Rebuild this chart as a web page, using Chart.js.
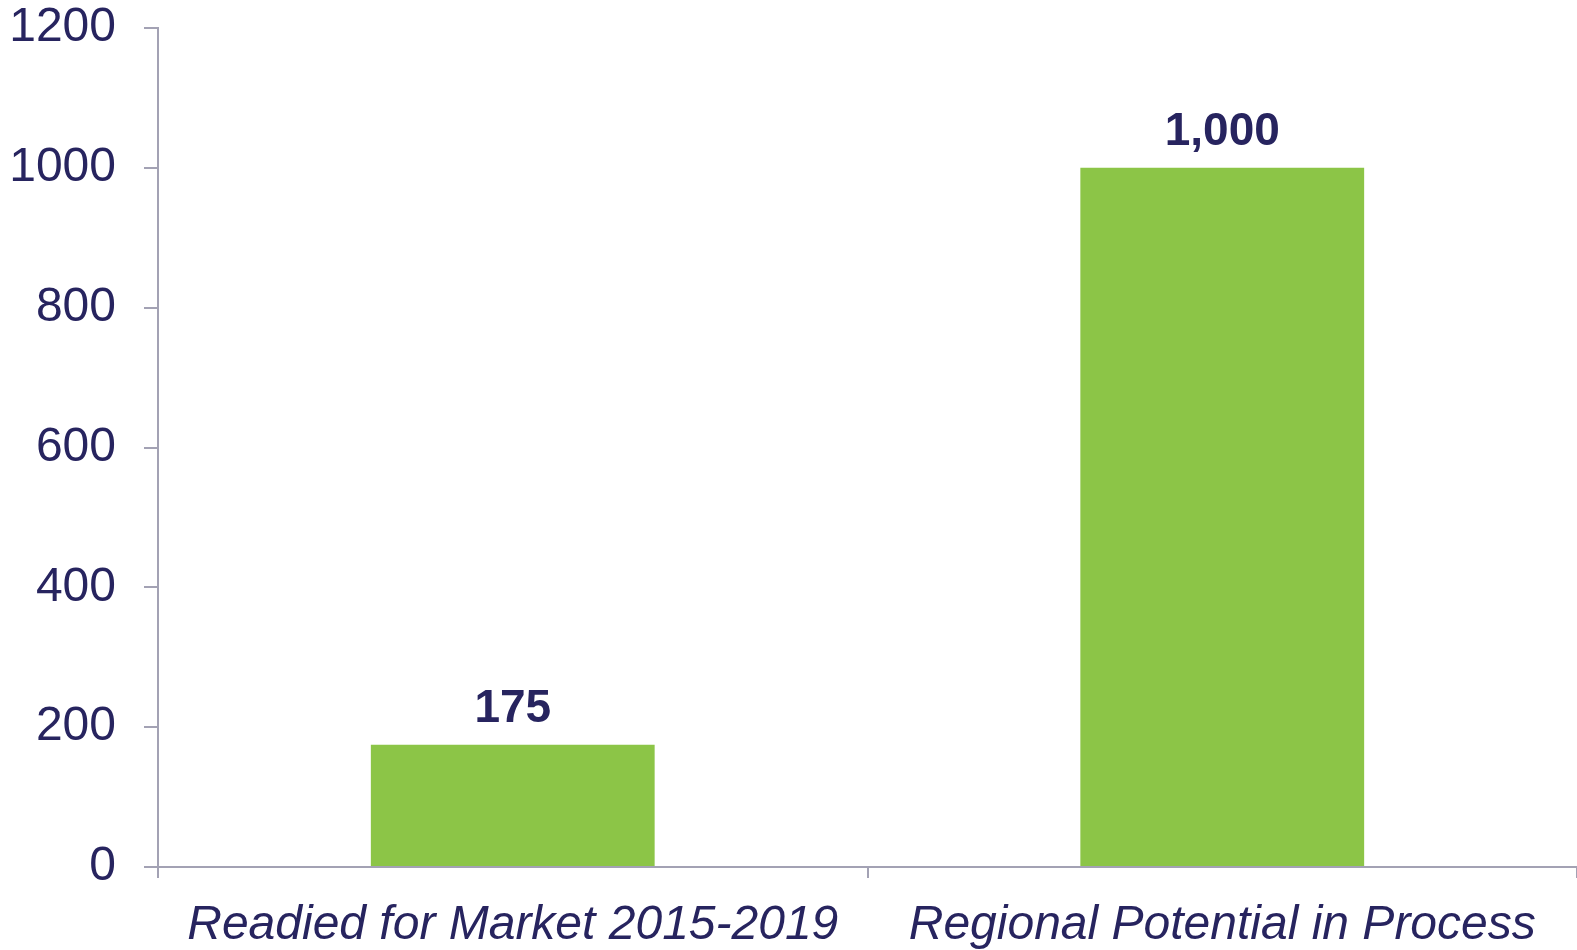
<!DOCTYPE html>
<html>
<head>
<meta charset="utf-8">
<script src="https://cdn.jsdelivr.net/npm/chart.js@4"></script>
<style>
  html, body { margin: 0; padding: 0; background: #fff; }
  #wrap { width: 1577px; height: 950px; position: relative; }
</style>
</head>
<body>
<div id="wrap"><canvas id="chart"></canvas></div>
<script>
// values
const categories = ['Readied for Market 2015-2019', 'Regional Potential in Process'];
const values = [175, 1000];
const valueLabels = ['175', '1,000'];
const yTicks = [0, 200, 400, 600, 800, 1000, 1200];

const navy = '#27245f';
const axisGray = '#a3a2b4';

// draws the bold number above each bar
const barLabels = {
    id: 'barLabels',
    afterDatasetsDraw: function(chart) {
        const ctx = chart.ctx;
        const meta = chart.getDatasetMeta(0);
        ctx.save();
        ctx.fillStyle = navy;
        ctx.font = 'bold 46px "Liberation Sans", Arial, sans-serif';
        ctx.textAlign = 'center';
        ctx.textBaseline = 'alphabetic';
        meta.data.forEach(function(bar, i) {
            ctx.fillText(valueLabels[i], bar.x, bar.y - 23);
        });
        ctx.restore();
    }
};

new Chart(document.getElementById('chart'), {
    type: 'bar',
    data: {
        labels: categories,
        datasets: [{
            data: values,
            backgroundColor: '#8cc547',
            borderWidth: 0,
            barPercentage: 0.4,
            categoryPercentage: 1
        }]
    },
    options: {
        responsive: true,
        maintainAspectRatio: false,
        animation: false,
        layout: { padding: { top: 28, left: 0, right: 0, bottom: 0 } },
        plugins: {
            legend: { display: false },
            tooltip: { enabled: false }
        },
        scales: {
            x: {
                afterFit: function(scale) {
                    scale.height = 83;
                    scale.paddingLeft = 0;
                    scale.paddingRight = 0;
                },
                grid: {
                    drawOnChartArea: false,
                    offset: true,
                    color: axisGray,
                    lineWidth: 2,
                    tickLength: 11
                },
                border: { color: axisGray, width: 2 },
                ticks: {
                    color: navy,
                    padding: 19,
                    maxRotation: 0,
                    font: { family: '"Liberation Sans", Arial, sans-serif', size: 48, style: 'italic' }
                }
            },
            y: {
                min: 0,
                max: 1200,
                afterFit: function(scale) {
                    scale.width = 158;
                    scale.paddingTop = 0;
                    scale.paddingBottom = 0;
                },
                afterBuildTicks: function(scale) {
                    scale.ticks = yTicks.map(function(v) { return { value: v }; });
                },
                grid: {
                    drawOnChartArea: false,
                    color: axisGray,
                    lineWidth: 2,
                    tickLength: 14
                },
                border: { color: axisGray, width: 2 },
                ticks: {
                    color: navy,
                    padding: 28,
                    callback: function(v) { return String(v); },
                    font: { family: '"Liberation Sans", Arial, sans-serif', size: 48 }
                }
            }
        }
    },
    plugins: [barLabels]
});
</script>
</body>
</html>
